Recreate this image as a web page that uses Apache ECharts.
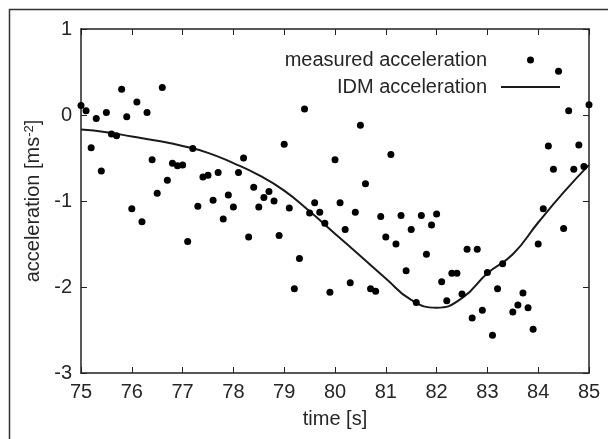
<!DOCTYPE html>
<html>
<head>
<meta charset="utf-8">
<script src="https://cdn.jsdelivr.net/npm/echarts@6/dist/echarts.min.js"></script>
<style>
  html, body { margin: 0; padding: 0; background: #fff; }
  #chart { width: 608px; height: 439px; }
</style>
</head>
<body>
<div id="chart"></div>
<script>
// measured acceleration samples (s, m/s^2)
const measuredTime = [
  75.0, 75.1, 75.2, 75.3, 75.4, 75.5, 75.6, 75.7, 75.8, 75.9,
  76.0, 76.1, 76.2, 76.3, 76.4, 76.5, 76.6, 76.7, 76.8, 76.9,
  77.0, 77.1, 77.2, 77.3, 77.4, 77.5, 77.6, 77.7, 77.8, 77.9,
  78.0, 78.1, 78.2, 78.3, 78.4, 78.5, 78.6, 78.7, 78.8, 78.9,
  79.0, 79.1, 79.2, 79.3, 79.4, 79.5, 79.6, 79.7, 79.8, 79.9,
  80.0, 80.1, 80.2, 80.3, 80.4, 80.5, 80.6, 80.7, 80.8, 80.9,
  81.0, 81.1, 81.2, 81.3, 81.4, 81.5, 81.6, 81.7, 81.8, 81.9,
  82.0, 82.1, 82.2, 82.3, 82.4, 82.5, 82.6, 82.7, 82.8, 82.9,
  83.0, 83.1, 83.2, 83.3, 83.5, 83.6, 83.7, 83.8, 83.9,
  84.0, 84.1, 84.2, 84.3, 84.4, 84.5, 84.6, 84.7, 84.8, 84.9,
  85.0
];
const measuredAccel = [
  0.11, 0.05, -0.38, -0.04, -0.65, 0.03, -0.22, -0.24, 0.30, -0.02,
  -1.09, 0.15, -1.24, 0.03, -0.52, -0.91, 0.32, -0.76, -0.56, -0.59,
  -0.58, -1.47, -0.39, -1.06, -0.72, -0.70, -0.99, -0.67, -1.21, -0.93,
  -1.07, -0.67, -0.50, -1.42, -0.84, -1.07, -0.96, -0.89, -1.00, -1.40,
  -0.34, -1.08, -2.02, -1.67, 0.07, -1.14, -1.02, -1.13, -1.26, -2.06,
  -0.52, -1.02, -1.33, -1.95, -1.13, -0.12, -0.80, -2.02, -2.05, -1.18,
  -1.42, -0.46, -1.50, -1.17, -1.81, -1.33, -2.18, -1.17, -1.62, -1.28,
  -1.15, -1.94, -2.16, -1.84, -1.84, -2.08, -1.56, -2.36, -1.56, -2.27,
  -1.83, -2.56, -2.02, -1.73, -2.29, -2.21, -2.07, -2.24, -2.49,
  -1.50, -1.09, -0.36, -0.63, 0.51, -1.32, 0.05, -0.63, -0.35, -0.60,
  0.12
];

// IDM model curve
const idmTime = [75, 75.5, 76, 76.5, 77, 77.5, 78, 78.5, 79, 79.5, 80,
  80.5, 81, 81.5, 82, 82.5, 83, 83.5, 84, 84.5, 85];
const idmAccel = [-0.17, -0.20, -0.25, -0.30, -0.36, -0.44, -0.56, -0.70, -0.88, -1.12, -1.38,
  -1.64, -1.90, -2.15, -2.24, -2.13, -1.84, -1.62, -1.25, -0.90, -0.58];

const xTicks = { min: 75, max: 85, interval: 1 };
const yTicks = { min: -3, max: 1, interval: 1 };

const font = 'Liberation Sans';
const ink = '#262626';

const chart = echarts.init(document.getElementById('chart'), null, { renderer: 'canvas' });

const frameAxis = {
  axisLine: { show: true, onZero: false, lineStyle: { color: '#222', width: 1.5 } },
  axisTick: { show: true, inside: true, length: 6, lineStyle: { color: '#222', width: 1 } },
  splitLine: { show: false },
};

chart.setOption({
  animation: false,
  textStyle: { fontFamily: font },
  grid: { left: 81, right: 19, top: 29, bottom: 66 },
  legend: {
    orient: 'vertical',
    align: 'right',
    right: 47,
    top: 50,
    padding: 0,
    itemGap: 7,
    itemWidth: 59,
    itemHeight: 7,
    textStyle: { fontSize: 20, color: ink, fontFamily: font, padding: [0, 9, 0, 0] },
    data: [
      'measured acceleration',
      // plain line in the key, no marker
      { name: 'IDM acceleration', itemStyle: { opacity: 0 } },
    ],
  },
  xAxis: [
    Object.assign({
      type: 'value', position: 'bottom',
      min: xTicks.min, max: xTicks.max, interval: xTicks.interval,
      name: 'time [s]', nameLocation: 'middle', nameGap: 36,
      nameTextStyle: { fontSize: 20, color: ink, fontFamily: font },
      axisLabel: { fontSize: 20, color: ink, margin: 9, fontFamily: font },
    }, frameAxis),
    Object.assign({
      type: 'value', position: 'top',
      min: xTicks.min, max: xTicks.max, interval: xTicks.interval,
      axisLabel: { show: false },
    }, frameAxis),
  ],
  yAxis: [
    Object.assign({
      type: 'value', position: 'left',
      min: yTicks.min, max: yTicks.max, interval: yTicks.interval,
      name: '{a|acceleration [ms}{s|-2}{a|]}', nameLocation: 'middle', nameGap: 36,
      nameTextStyle: {
        color: ink,
        rich: {
          a: { fontSize: 20, color: ink, fontFamily: font },
          s: { fontSize: 13, color: ink, fontFamily: font, verticalAlign: 'top' },
        },
      },
      axisLabel: { fontSize: 20, color: ink, margin: 9, fontFamily: font },
    }, frameAxis),
    Object.assign({
      type: 'value', position: 'right',
      min: yTicks.min, max: yTicks.max, interval: yTicks.interval,
      axisLabel: { show: false },
    }, frameAxis),
  ],
  graphic: [{
    type: 'rect',
    left: 7, top: 7,
    shape: { width: 800, height: 600 },
    style: { fill: 'none', stroke: '#333', lineWidth: 1.5 },
    silent: true,
  }],
  series: [
    {
      name: 'measured acceleration',
      type: 'scatter',
      symbol: 'circle',
      symbolSize: 7,
      itemStyle: { color: '#000', opacity: 1 },
      data: measuredTime.map((t, i) => [t, measuredAccel[i]]),
      z: 3,
    },
    {
      name: 'IDM acceleration',
      type: 'line',
      smooth: true,
      symbol: 'none',
      itemStyle: { color: '#1a1a1a' },
      lineStyle: { color: '#1a1a1a', width: 2 },
      data: idmTime.map((t, i) => [t, idmAccel[i]]),
      z: 2,
    },
  ],
});
</script>
</body>
</html>
